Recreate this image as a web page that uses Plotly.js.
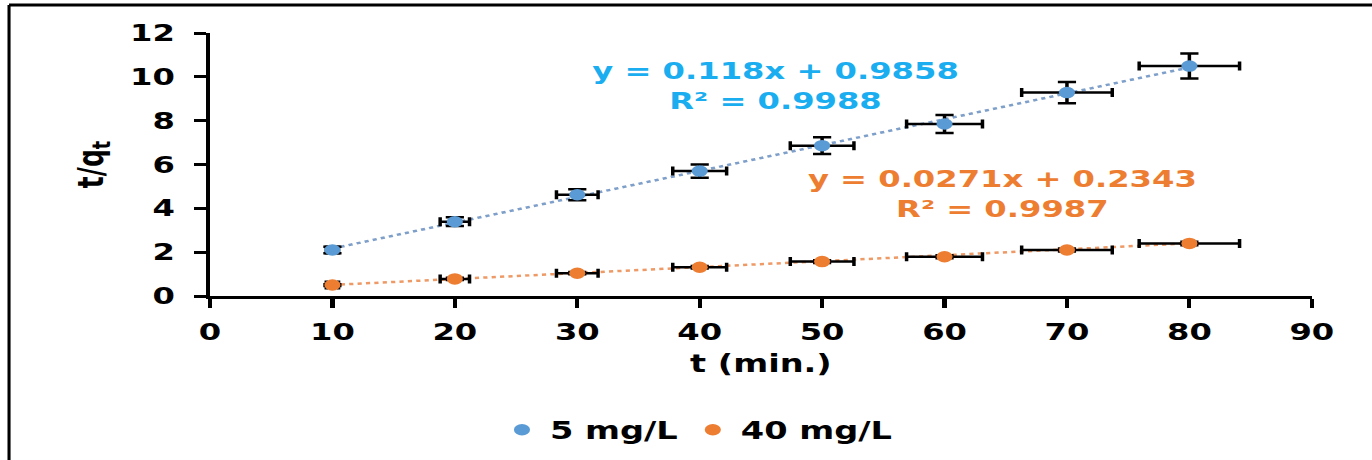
<!DOCTYPE html>
<html>
<head>
<meta charset="utf-8">
<script src="https://cdn.plot.ly/plotly-3.0.1.min.js"></script>
<style>
  html, body { margin: 0; padding: 0; background: #fff; overflow: hidden; }
  #wrap { width: 1372px; height: 460px; overflow: hidden; position: relative; }
  #chart { width: 980px; height: 460px; transform: scaleX(1.4); transform-origin: 0 0; }
</style>
</head>
<body>
<div id="wrap"><div id="chart"></div></div>
<script>
// ---- data ----
const t        = [10, 20, 30, 40, 50, 60, 70, 80];
const tq5      = [2.10, 3.39, 4.62, 5.70, 6.86, 7.85, 9.28, 10.49];
const tq40     = [0.50, 0.78, 1.04, 1.31, 1.57, 1.79, 2.10, 2.40];
const tErr     = [0.5, 1.2, 1.7, 2.2, 2.6, 3.1, 3.7, 4.1];
const tq5Err   = [0.15, 0.2, 0.25, 0.3, 0.38, 0.41, 0.48, 0.57];
const tq40Err  = [0.04, 0.05, 0.05, 0.06, 0.06, 0.07, 0.07, 0.08];
const fit5     = [0.118, 0.9858];   // slope, intercept
const fit40    = [0.0271, 0.2343];
const r2       = [0.9988, 0.9987];
const seriesNames = ['5 mg/L', '40 mg/L'];
const xTicks   = [0, 10, 20, 30, 40, 50, 60, 70, 80, 90];
const yTicks   = [0, 2, 4, 6, 8, 10, 12];

const blue = '#5B9BD5', orange = '#ED7D31';
const FONT = 'DejaVu Sans, Verdana, sans-serif';

const xFit = [t[0], t[t.length - 1]];
const line = (f) => xFit.map(x => f[0] * x + f[1]);

const errStyle = (arr, w) => ({type: 'data', array: arr, visible: true, color: '#000', thickness: 2.5, width: w});

const traces = [
  {x: xFit, y: line(fit5), mode: 'lines', showlegend: false, hoverinfo: 'skip',
   line: {color: '#7E9FC9', width: 2.5, dash: 'dot'}},
  {x: xFit, y: line(fit40), mode: 'lines', showlegend: false, hoverinfo: 'skip',
   line: {color: '#EE9A66', width: 2.5, dash: 'dot'}},
  {x: t, y: tq5, name: seriesNames[0], mode: 'markers', type: 'scatter',
   marker: {color: blue, size: 11.5},
   error_x: errStyle(tErr, 4.5), error_y: errStyle(tq5Err, 6.5)},
  {x: t, y: tq40, name: seriesNames[1], mode: 'markers', type: 'scatter',
   marker: {color: orange, size: 11.5},
   error_x: errStyle(tErr, 4.5), error_y: errStyle(tq40Err, 6.5)}
];

const fmt = (f) => 'y = ' + f[0] + 'x + ' + f[1];

const layout = {
  width: 980, height: 460,
  margin: {l: 150, r: 43, t: 33, b: 164},
  paper_bgcolor: '#fff', plot_bgcolor: '#fff',
  font: {family: FONT, size: 22, color: '#000', weight: 700},
  showlegend: true,
  legend: {orientation: 'h', xref: 'container', yref: 'container', x: 0.508, y: 0.065,
           xanchor: 'center', yanchor: 'middle', font: {size: 24, weight: 700, family: FONT},
           itemwidth: 30, tracegroupgap: 0},
  xaxis: {range: [0, 90], tickvals: xTicks, showgrid: false, zeroline: false,
          showline: true, linecolor: '#000', linewidth: 3,
          ticks: 'outside', ticklen: 9, tickwidth: 3, tickcolor: '#000',
          ticklabelstandoff: 4,
          tickfont: {size: 23, weight: 700, family: FONT},
          title: {text: 't (min.)', font: {size: 24, weight: 700, family: FONT}, standoff: 12}},
  yaxis: {range: [0, 12], tickvals: yTicks, showgrid: false, zeroline: false,
          showline: true, linecolor: '#000', linewidth: 3,
          ticks: 'outside', ticklen: 8.5, tickwidth: 3, tickcolor: '#000',
          ticklabelstandoff: 9,
          tickfont: {size: 23, weight: 700, family: FONT},
          title: {text: 't/q<sub>t</sub>', font: {size: 25, weight: 700, family: FONT}, standoff: 12}},
  annotations: [
    {x: 46.2, y: 9.56, xref: 'x', yref: 'y', showarrow: false, align: 'center',
     text: fmt(fit5) + '<br>R² = ' + r2[0], font: {size: 23, color: '#1AADEF', weight: 700, family: FONT}},
    {x: 64.7, y: 4.65, xref: 'x', yref: 'y', showarrow: false, align: 'center',
     text: fmt(fit40) + '<br>R² = ' + r2[1], font: {size: 23, color: orange, weight: 700, family: FONT}}
  ],
  shapes: [
    {type: 'line', xref: 'paper', yref: 'paper', x0: -0.1824, x1: -0.1824, y0: 1.1065, y1: -0.7,
     line: {color: '#000', width: 2.2}},
    {type: 'line', xref: 'paper', yref: 'paper', x0: -0.1824, x1: 1.06, y0: 1.1065, y1: 1.1065,
     line: {color: '#000', width: 3}}
  ]
};

Plotly.newPlot('chart', traces, layout, {displayModeBar: false, staticPlot: true});
</script>
</body>
</html>
